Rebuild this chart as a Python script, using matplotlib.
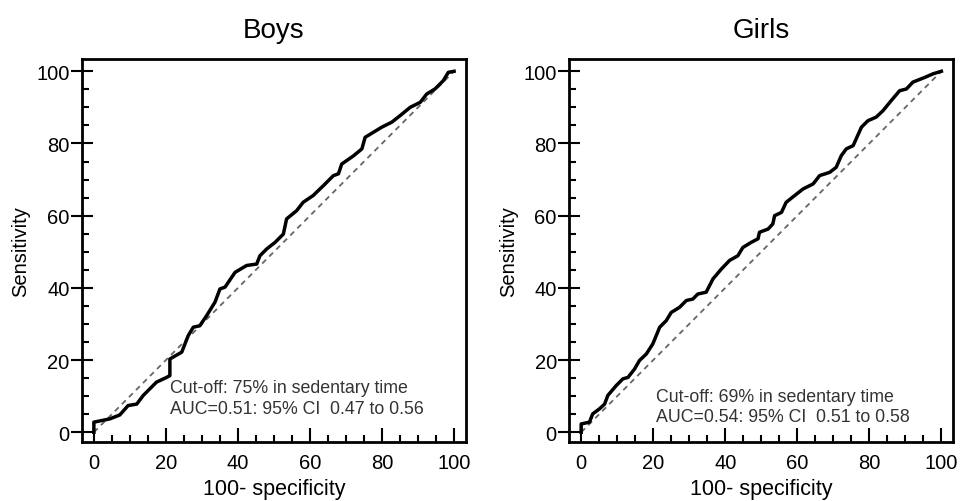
import matplotlib

matplotlib.use("Agg")
import matplotlib.pyplot as plt
from matplotlib.ticker import MultipleLocator

plt.rcParams["font.family"] = ["Liberation Sans", "DejaVu Sans"]

# ROC curves (100-specificity, sensitivity)
boys_x = [0, 0, 4.4, 7.2, 9.5, 11.9, 13.7, 17.4, 20.2, 21.1, 21.1, 24.4, 26.2,
          27.6, 29.4, 31.3, 33.6, 35.0, 36.4, 39.2, 42.4, 45.2, 46.1, 48.0,
          50.3, 52.6, 53.5, 56.3, 58.1, 60.9, 63.7, 66.5, 67.9, 68.8, 72.1,
          74.4, 75.3, 77.6, 79.9, 82.7, 85.0, 87.8, 90.6, 92.4, 94.7, 97.0,
          98.4, 100]
boys_y = [0, 2.8, 3.7, 4.8, 7.4, 7.8, 10.2, 13.9, 15.2, 15.7, 20.3, 22.2, 26.8,
          29.1, 29.5, 32.3, 36.0, 39.7, 40.2, 44.3, 46.2, 46.6, 48.9, 50.8,
          52.6, 54.9, 59.1, 61.4, 63.7, 65.6, 68.3, 71.1, 71.6, 74.3, 76.6,
          78.5, 81.7, 83.1, 84.5, 85.9, 87.7, 90.0, 91.4, 93.7, 95.1, 97.4,
          99.7, 100]

girls_x = [0, 0, 2.3, 3.2, 5.1, 6.5, 7.4, 9.7, 11.6, 13.0, 14.8, 16.2, 18.1,
           19.9, 21.8, 23.6, 25.0, 27.3, 29.2, 31.0, 32.4, 34.7, 36.6, 38.9,
           41.2, 43.5, 44.9, 47.2, 49.1, 49.5, 51.9, 53.2, 53.7, 55.6, 56.9,
           59.3, 61.6, 64.4, 66.2, 69.0, 70.8, 72.2, 73.6, 75.5, 77.8, 79.6,
           81.9, 83.8, 86.1, 88.4, 90.3, 92.1, 95.4, 97.7, 100]
girls_y = [0, 2.3, 2.8, 5.1, 6.5, 7.8, 10.2, 12.9, 14.8, 15.2, 17.5, 19.9, 21.7,
           24.5, 29.1, 30.9, 33.2, 34.6, 36.5, 36.9, 38.3, 38.8, 42.5, 45.2,
           47.6, 48.9, 51.2, 52.6, 53.6, 55.4, 56.3, 57.7, 60.0, 60.9, 63.7,
           65.6, 67.4, 68.8, 71.1, 72.0, 73.4, 76.6, 78.5, 79.4, 84.5, 86.3,
           87.3, 89.1, 91.9, 94.6, 95.1, 97.0, 98.3, 99.3, 100]

panels = [
    ("Boys", boys_x, boys_y,
     "Cut-off: 75% in sedentary time\nAUC=0.51: 95% CI  0.47 to 0.56", (21.1, 9.5)),
    ("Girls", girls_x, girls_y,
     "Cut-off: 69% in sedentary time\nAUC=0.54: 95% CI  0.51 to 0.58", (20.8, 7.2)),
]
ticks = [0, 20, 40, 60, 80, 100]

fig = plt.figure(figsize=(9.6, 5.02), dpi=100)
lefts = [0.0854, 0.593]

for left, (title, xs, ys, note, note_xy) in zip(lefts, panels):
    ax = fig.add_axes([left, 0.1175, 0.4, 0.763])
    ax.plot([0, 100], [0, 100], ls=(0, (3, 2.5)), color="#666666", lw=1.3)
    ax.plot(xs, ys, color="black", lw=2.5, solid_joinstyle="round")
    ax.set_xlim(-3.3, 103.3)
    ax.set_ylim(-2.7, 103.4)
    ax.set_xticks(ticks)
    ax.set_yticks(ticks)
    ax.xaxis.set_minor_locator(MultipleLocator(5))
    ax.yaxis.set_minor_locator(MultipleLocator(5))
    ax.tick_params(axis="x", which="major", direction="in", length=10, width=1.5,
                   labelsize=14.5, pad=8)
    ax.tick_params(axis="x", which="minor", direction="in", length=5, width=1.5)
    ax.tick_params(axis="y", which="major", direction="inout", length=16, width=1.5,
                   labelsize=14.5, pad=1)
    ax.tick_params(axis="y", which="minor", direction="in", length=5, width=1.5)
    for sp in ax.spines.values():
        sp.set_linewidth(2)
    ax.set_title(title, fontsize=20, pad=16)
    ax.set_xlabel("100- specificity", fontsize=15.5, labelpad=4)
    ax.set_ylabel("Sensitivity", fontsize=14.5, labelpad=4)
    ax.text(note_xy[0], note_xy[1], note, fontsize=12.8, color="#333333",
            va="center", ha="left", linespacing=1.25)

fig.savefig("out.png", dpi=100)
